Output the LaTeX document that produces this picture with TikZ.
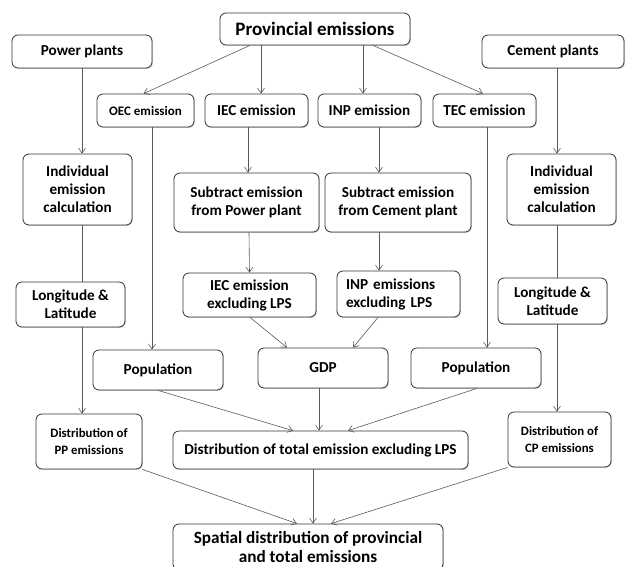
\documentclass[tikz,border=0pt]{standalone}
\usepackage{fontspec}
\setmainfont{Carlito}
\usetikzlibrary{arrows.meta,shadows}
\begin{document}
\begin{tikzpicture}[x=1pt,y=-1pt,
  bx/.style={draw=black!80,line width=0.8pt,rounded corners=6pt,fill=white,
    drop shadow={shadow xshift=0.8pt,shadow yshift=-0.8pt,opacity=0.35,fill=black!60},
    inner sep=0pt,align=center,font=\bfseries\fontsize{15.2}{18}\selectfont},
  sm/.style={font=\bfseries\fontsize{13}{15}\selectfont},
  xs/.style={font=\bfseries\fontsize{12.8}{16.5}\selectfont},
  ln/.style={draw=black!65,line width=0.6pt},
  ar/.style={ln,-{Straight Barb[length=5pt,width=7pt,line width=0.6pt]}}]
\useasboundingbox (0,0) rectangle (625,566);
\begin{scope}
\clip (0,0) rectangle (625,566);
\node[bx,minimum width=190pt,minimum height=32pt,font=\bfseries\fontsize{19}{22}\selectfont] (prov) at (315,29) {Provincial emissions};
\node[bx,minimum width=140pt,minimum height=33pt] (pp) at (82,51.5) {Power plants};
\node[bx,minimum width=142pt,minimum height=33pt] (cp) at (553,51.5) {Cement plants};
\node[bx,sm,minimum width=97pt,minimum height=33pt] (oec) at (145.5,110.5) {OEC emission};
\node[bx,minimum width=103pt,minimum height=33pt] (iec) at (256.5,110.5) {IEC emission};
\node[bx,minimum width=103pt,minimum height=33pt] (inp) at (369.5,110.5) {INP emission};
\node[bx,minimum width=103pt,minimum height=33pt] (tec) at (484.5,110.5) {TEC emission};
\node[bx,minimum width=109pt,minimum height=71pt] (indL) at (77.5,189.5) {Individual\\emission\\calculation};
\node[bx,minimum width=109pt,minimum height=71pt] (indR) at (561.5,189.5) {Individual\\emission\\calculation};
\node[bx,minimum width=145pt,minimum height=59pt] (subP) at (246.5,202.5) {Subtract emission\\from Power plant};
\node[bx,minimum width=146pt,minimum height=59pt] (subC) at (398,202.5) {Subtract emission\\from Cement plant};
\node[bx,minimum width=109pt,minimum height=45pt] (lonL) at (70.5,304.5) {Longitude \&\\Latitude};
\node[bx,minimum width=109pt,minimum height=46pt] (lonR) at (552.5,301) {Longitude \&\\Latitude};
\node[bx,minimum width=133pt,minimum height=44pt] (iecx) at (249.5,295) {IEC emission\\excluding LPS};
\node[bx,minimum width=123pt,minimum height=46pt,text width=105pt,align=left] (inpx) at (398.5,294) {INP emissions\\excluding LPS};
\node[bx,minimum width=130pt,minimum height=40pt] (popL) at (158,370) {Population};
\node[bx,minimum width=130pt,minimum height=40pt] (gdp) at (323,368) {GDP};
\node[bx,minimum width=130pt,minimum height=40pt] (popR) at (476,368) {Population};
\node[bx,xs,minimum width=106pt,minimum height=55pt] (dpp) at (89,441.5) {Distribution of\\PP emissions};
\node[bx,minimum width=295pt,minimum height=38pt] (dtot) at (320.5,450) {Distribution of total emission excluding LPS};
\node[bx,xs,minimum width=103pt,minimum height=55pt] (dcp) at (559.5,439.5) {Distribution of\\CP emissions};
\node[bx,minimum width=270pt,minimum height=46pt,font=\bfseries\fontsize{17.2}{19.5}\selectfont] (spat) at (308,547) {Spatial distribution of provincial\\and total emissions};
\end{scope}
\coordinate (lx) at (82,0);
\coordinate (rx) at (557,0);
% top fan
\draw[ar] ([xshift=-65pt]prov.south) -- ([xshift=-2pt]oec.north);
\draw[ar] ([xshift=-54pt]prov.south) -- ([xshift=4.5pt]iec.north);
\draw[ar] ([xshift=48pt]prov.south) -- ([xshift=-6.5pt]inp.north);
\draw[ar] ([xshift=58pt]prov.south) -- ([xshift=-1.5pt]tec.north);
% left column
\draw[ar] (lx |- pp.south) -- (lx |- indL.north);
\draw[ln] (lx |- indL.south) -- (lx |- lonL.north);
\draw[ar] (lx |- lonL.south) -- (lx |- dpp.north);
% right column
\draw[ar] (rx |- cp.south) -- (rx |- indR.north);
\draw[ln] (rx |- indR.south) -- (rx |- lonR.north);
\draw[ar] (rx |- lonR.south) -- (rx |- dcp.north);
% middle
\draw[ar] ([xshift=-8.5pt]iec.south) -- ([xshift=1.5pt]subP.north);
\draw[ar] ([xshift=9.5pt]inp.south) -- ([xshift=-19pt]subC.north);
\draw[ar] ([xshift=2.5pt]subP.south) -- ([xshift=0pt]iecx.north);
\draw[ar] ([xshift=-19pt]subC.south) -- ([xshift=-19.5pt]inpx.north);
\draw[ar] ([xshift=6.5pt]oec.south) -- ([xshift=-6pt]popL.north);
\draw[ar] ([xshift=2.5pt]tec.south) -- ([xshift=11pt]popR.north);
\draw[ar] ([xshift=0.5pt]iecx.south) -- ([xshift=-36pt]gdp.north);
\draw[ar] ([xshift=-20.5pt]inpx.south) -- ([xshift=30pt]gdp.north);
\draw[ar] (popL.south) -- ([xshift=-27.5pt]dtot.north);
\draw[ar] ([xshift=-4pt]gdp.south) -- ([xshift=-1.5pt]dtot.north);
\draw[ar] ([xshift=1pt]popR.south) -- ([xshift=27.5pt]dtot.north);
\draw[ar] (dpp.south east) -- ([xshift=-11pt]spat.north);
\draw[ar] ([xshift=-7.5pt]dtot.south) -- ([xshift=5pt]spat.north);
\draw[ar] (dcp.south west) -- ([xshift=23pt]spat.north);
\end{tikzpicture}
\end{document}
